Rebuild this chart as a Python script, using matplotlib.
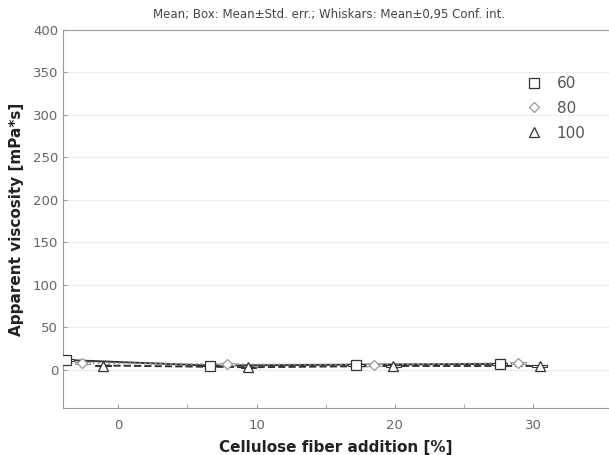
import numpy as np
import matplotlib.pyplot as plt

# x positions (offset per series) and mean viscosity values
x_60 = [-3.75, 6.6, 17.2, 27.6]
y_60 = [11.5, 5.0, 6.0, 7.0]
se_60 = [1.5, 1.0, 1.0, 1.2]
ci_60 = [3.5, 2.0, 2.0, 2.5]

x_80 = [-2.6, 7.9, 18.5, 28.95]
y_80 = [8.0, 6.5, 6.0, 8.0]
se_80 = [1.0, 1.0, 1.0, 1.0]
ci_80 = [2.0, 2.0, 2.0, 2.0]

x_100 = [-1.1, 9.4, 19.9, 30.5]
y_100 = [5.0, 3.0, 4.5, 4.5]
se_100 = [1.0, 0.8, 0.8, 0.8]
ci_100 = [2.0, 1.5, 1.5, 1.5]

series = [
    ('60', x_60, y_60, se_60, ci_60, 's', '-', '#333333'),
    ('80', x_80, y_80, se_80, ci_80, 'D', ':', '#999999'),
    ('100', x_100, y_100, se_100, ci_100, '^', '--', '#333333'),
]

fig = plt.figure(figsize=(6.09, 4.55), dpi=100)
ax = fig.add_axes([0.1034, 0.1033, 0.8966, 0.8307])

#grid lines
ax.set_axisbelow(True)
ax.grid(axis='y', color='#ececec', linewidth=0.8)

handles = []
for name, xs, ys, se, ci, mk, ls, col in series:
    xs = np.array(xs)
    ys = np.array(ys)
    se = np.array(se)
    ci = np.array(ci)
    #connecting line
    ax.plot(xs, ys, linestyle=ls, color=col, linewidth=1.4, zorder=2)
    #whiskers
    ax.errorbar(xs, ys, yerr=ci, fmt='none', ecolor=col, elinewidth=0.8,
                capsize=0, zorder=3)
    #boxes
    ax.bar(xs, 2 * se, bottom=ys - se, width=1.1, facecolor='white',
           edgecolor=col, linewidth=0.8, zorder=3)
    #mean markers
    h, = ax.plot(xs, ys, linestyle='none', marker=mk, markersize=6.5 if mk != 'D' else 5.5,
                 markerfacecolor='white', markeredgecolor=col, markeredgewidth=0.9,
                 zorder=4, label=name)
    handles.append(h)

ax.set_xlim(-4, 35.5)
ax.set_ylim(-45, 400)
ax.set_xticks([0, 10, 20, 30])
ax.set_xticks([5, 15, 25], minor=True)
ax.set_yticks(np.arange(0, 401, 50))

ax.tick_params(axis='both', which='both', direction='in', colors='#999999',
               labelcolor='#666666', labelsize=9.5, length=3)
ax.tick_params(axis='x', pad=8)
for side in ['left', 'bottom', 'top']:
    ax.spines[side].set_color('#999999')
ax.spines['right'].set_visible(False)

ax.set_xlabel('Cellulose fiber addition [%]', fontsize=11, fontweight='bold',
              color='#222222', labelpad=6)
ax.set_ylabel('Apparent viscosity [mPa*s]', fontsize=11, fontweight='bold',
              color='#222222', labelpad=6)
fig.text(0.54, 0.968, 'Mean; Box: Mean\u00b1Std. err.; Whiskars: Mean\u00b10,95 Conf. int.',
         ha='center', va='center', fontsize=8.5, color='#444444')

leg = ax.legend(handles=handles, loc='upper left', bbox_to_anchor=(0.82, 0.915),
                frameon=False, fontsize=11, handlelength=1.2, labelspacing=0.65,
                handletextpad=0.9)
for t in leg.get_texts():
    t.set_color('#555555')

fig.savefig('out.png', dpi=100)
